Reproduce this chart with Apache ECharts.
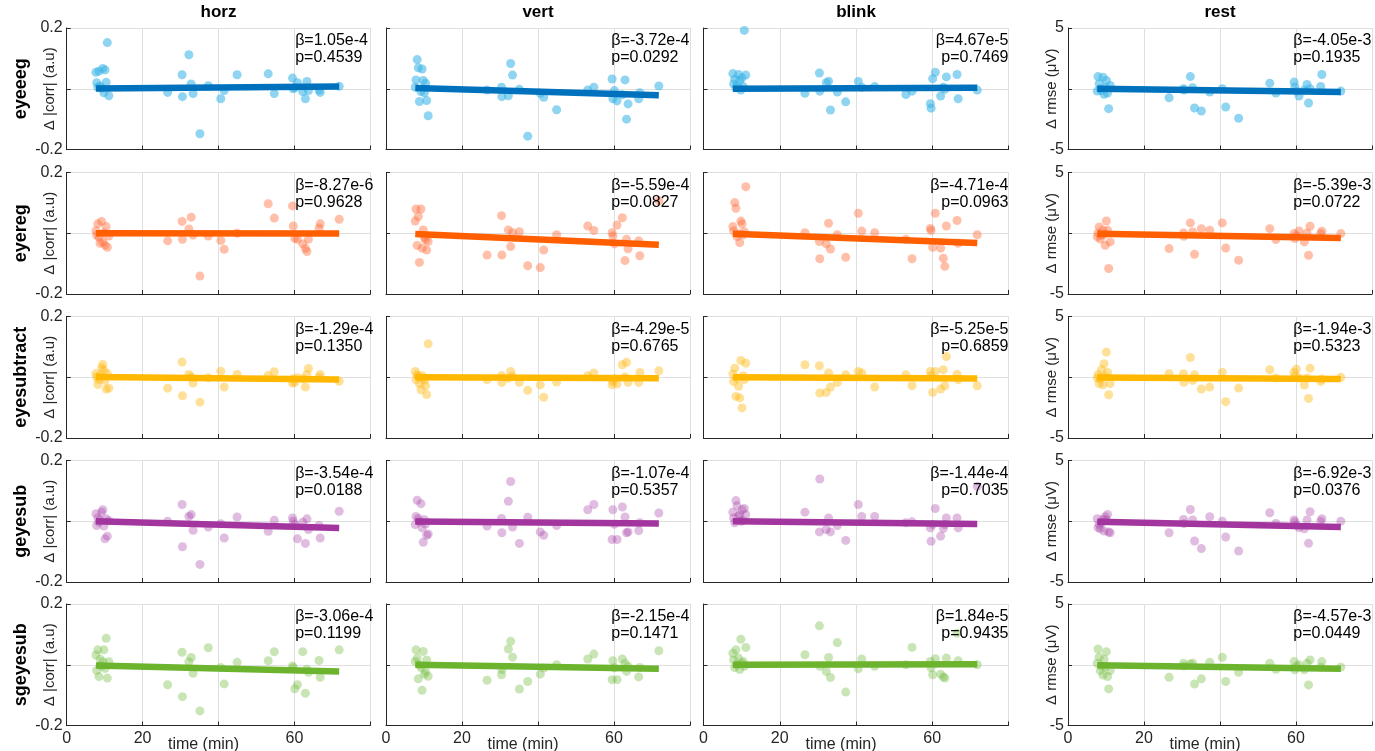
<!DOCTYPE html>
<html><head><meta charset="utf-8">
<script src="https://cdn.jsdelivr.net/npm/echarts@6/dist/echarts.min.js"></script>
<style>html,body{margin:0;padding:0;background:#fff}#c{width:1375px;height:751px}</style>
</head><body><div id="c"></div>
<script>
// ---------------- data ----------------
const methods = ['eyeeeg', 'eyereg', 'eyesubtract', 'geyesub', 'sgeyesub'];
const conditions = ['horz', 'vert', 'blink', 'rest'];
const corrAxisName = 'Δ |corr| (a.u)';
const rmseAxisName = 'Δ rmse (μV)';
const xAxisName = 'time (min)';
const xTickLabels = [0, 20, 60];
const corrRange = [-0.2, 0.2];
const rmseRange = [-5, 5];

const time = [7.7, 7.9, 8.2, 8.5, 8.8, 9.2, 9.5, 9.8, 10.1, 10.4, 10.7, 11.1,
  26.6, 30.4, 30.5, 32.2, 32.8, 33.3, 35.1, 37.3, 40.6, 41.5, 44.9, 53.1, 54.7,
  59.5, 59.7, 60.1, 60.8, 62.2, 62.9, 63.3, 63.7, 66.5, 66.8, 71.8];

const eyeeeg_horz = [0.054,0.020,0.005,0.058,0.009,0.002,0.067,-0.013,0.062,0.021,0.152,-0.023,
  -0.012,0.046,-0.026,0.112,0.016,-0.016,-0.148,0.010,-0.033,-0.006,0.046,0.049,-0.016,
  0.035,0.000,0.004,0.020,-0.009,-0.033,0.024,-0.006,-0.004,-0.012,0.008];
const eyeeeg_vert = [0.005,0.029,0.096,0.069,-0.042,-0.009,0.065,0.027,-0.013,0.018,-0.039,-0.089,
  -0.004,0.005,-0.026,-0.023,0.083,0.045,-0.002,-0.156,-0.015,-0.028,-0.069,-0.004,0.005,
  0.032,-0.033,-0.006,-0.040,-0.020,0.029,-0.100,-0.050,-0.033,-0.013,0.009];
const eyeeeg_blink = [0.050,0.016,0.031,0.003,0.011,0.047,0.027,-0.004,0.036,0.007,0.192,0.045,
  -0.015,0.052,-0.008,0.020,0.025,-0.070,-0.011,-0.043,0.024,0.005,0.007,-0.019,-0.008,
  -0.049,-0.064,0.033,0.054,-0.024,0.005,-0.002,0.039,0.047,-0.033,-0.004];
const eyeeeg_rest = [-0.19,1.0,0.41,0,-0.14,0.95,-0.46,0.08,0.68,-0.35,-1.64,0.27,
  -0.74,0,-0.1,1.0,0.08,-1.58,-1.83,-0.27,0,-1.5,-2.43,0.46,-0.35,
  0.55,0.14,-0.2,-0.6,-0.1,0.35,-1.17,0,0.19,1.17,-0.19];

const eyereg_horz = [0.008,-0.006,0.031,-0.013,-0.033,0.039,-0.028,0.002,-0.039,0.022,-0.046,-0.009,
  -0.025,0.039,-0.020,0.014,0.053,-0.006,-0.141,-0.009,-0.024,-0.053,0,0.097,0.050,
  0.090,0.024,-0.017,-0.020,-0.035,-0.050,-0.060,-0.020,0.017,0.031,0.046];
const eyereg_vert = [0.040,0.080,-0.040,0.055,-0.096,0.080,-0.049,0.011,-0.013,-0.022,-0.055,-0.027,
  -0.072,0.058,-0.072,0.011,-0.044,0.002,0.005,-0.107,-0.113,-0.055,-0.005,0.024,0.009,
  0.002,-0.009,-0.035,0.027,0.051,-0.090,-0.020,-0.051,-0.025,-0.074,0.107];
const eyereg_blink = [0.022,0.008,0.101,0.082,-0.011,-0.002,-0.031,0.040,0.031,-0.005,0.005,0.153,
  0.002,-0.027,-0.084,-0.035,0.033,-0.052,-0.005,-0.079,0.066,0.007,0.002,-0.020,-0.084,
  0.016,0.009,-0.046,0.066,-0.049,-0.082,-0.109,0.024,0.042,-0.033,-0.005];
const eyereg_rest = [-0.3,0.03,0.52,-0.47,-0.16,0.25,-0.08,-0.99,1.01,0.25,-2.9,-0.71,
  -1.26,0.03,-0.25,0.85,0.11,-1.73,0.38,0.25,0.85,-1.21,-2.22,0.38,-0.52,
  -0.03,-0.44,-0.2,0.19,-0.71,0.03,-1.81,0.58,-0.03,0.16,-0.03];

const eyesubtract_horz = [0.012,0.001,-0.024,-0.008,0.006,0.031,0.042,0.023,-0.010,-0.039,0.012,-0.036,
  -0.036,0.050,-0.061,0.009,0.001,-0.019,-0.082,-0.002,0.020,-0.032,0.009,0.006,0.018,
  -0.019,-0.005,-0.017,-0.002,-0.005,-0.032,0.009,0.029,0.000,0.009,-0.013];
const eyesubtract_vert = [0.019,-0.008,0.008,0.003,-0.021,-0.041,0.005,-0.003,-0.010,-0.028,-0.057,0.110,
  -0.008,0.005,-0.017,-0.003,0.019,0.003,-0.017,-0.043,-0.025,-0.066,-0.016,0.005,0.014,
  -0.025,-0.014,-0.005,-0.022,0.041,0.001,0.049,-0.017,-0.017,0.016,0.021];
const eyesubtract_blink = [0.011,-0.014,0.030,-0.063,-0.003,-0.030,-0.068,0.055,-0.101,0.005,-0.008,0.046,
  0.041,0.038,-0.052,-0.050,0.014,-0.032,-0.017,0.008,0.019,0.014,-0.032,0.008,-0.028,
  0.019,0.005,-0.050,0.019,-0.039,0.025,-0.028,0.068,0.010,-0.008,-0.028];
const eyesubtract_rest = [-0.07,0.21,-0.53,-0.15,0.62,-0.62,1.11,0.07,2.07,0.4,-1.44,-0.53,
  0.29,0.29,-0.42,1.63,-0.26,0.21,-0.97,-0.81,0.42,-2.01,-0.89,0.62,-0.07,
  0.42,0.1,0.67,-0.07,-0.64,-0.07,-1.74,0.75,-0.34,-0.15,-0.01];

const geyesub_horz = [0.025,-0.014,0.011,-0.003,0.003,0.030,0.038,-0.016,-0.058,0.008,-0.049,0.002,
  0,0.055,-0.084,0.016,0.022,-0.030,-0.142,-0.019,-0.008,-0.055,0.014,-0.033,0.003,
  0.011,0.000,-0.010,-0.058,-0.003,-0.073,0.008,-0.027,-0.014,-0.055,0.033];
const geyesub_vert = [-0.011,0.016,0.069,0.009,-0.002,0.058,-0.022,-0.069,0.005,-0.009,-0.046,-0.042,
  -0.016,0.009,-0.038,0.066,0.131,-0.019,-0.073,0.013,-0.035,-0.046,-0.014,0.038,0.055,
  -0.060,0.038,-0.010,-0.060,0.047,0.014,-0.038,-0.035,-0.031,-0.005,0.027];
const geyesub_blink = [0.030,0.011,-0.005,0.068,0.051,0.016,0.022,0,0.038,0.002,0.042,0.022,
  0.030,-0.035,0.139,-0.027,0.011,-0.035,-0.014,-0.063,0.055,0.016,0.016,-0.005,-0.002,
  -0.022,-0.066,-0.011,0.042,-0.049,-0.024,-0.011,0.011,0.011,-0.022,0.115];
const geyesub_rest = [0.21,-0.53,-0.26,-0.62,-0.12,0.15,-0.81,0.37,0.1,0.56,-0.89,-0.95,
  -0.95,0.15,-0.2,0.97,0.1,-1.63,-2.25,0.37,0.01,-1.3,-2.45,0.7,-0.18,
  0.1,-0.07,-0.3,-0.53,-0.62,0.1,-1.82,0.78,0.01,0.21,0.01];

const sgeyesub_horz = [0.032,-0.019,0.049,-0.039,0.018,-0.004,0.010,0.049,-0.012,0.087,-0.044,0.010,
  -0.066,0.041,-0.105,0.010,0.024,-0.028,-0.152,0.056,-0.009,-0.063,0.008,0.013,0.043,
  -0.004,-0.010,-0.079,-0.066,0.043,-0.094,-0.015,-0.025,0.014,-0.041,0.049];
const sgeyesub_vert = [0.011,0.049,0.022,-0.046,0,-0.009,-0.084,0.044,-0.031,-0.022,0.016,-0.038,
  -0.051,-0.033,-0.016,0.052,0.077,0.025,-0.080,-0.055,-0.031,-0.011,0,0.019,0.035,
  -0.049,0.013,-0.010,-0.049,0.019,0.005,-0.022,-0.005,-0.040,-0.009,0.046];
const sgeyesub_blink = [0.038,0.016,-0.009,0.049,0,0.022,-0.016,0.084,0.005,0.011,-0.005,0.057,
  0.033,0.128,-0.005,-0.022,0.024,-0.042,0.073,-0.090,-0.013,0.019,-0.005,0.000,0.057,
  0.011,-0.010,-0.033,0.020,-0.031,-0.040,-0.044,0.022,0.104,0.013,0.000];
const sgeyesub_rest = [0.12,1.3,0.62,-0.48,-0.1,-0.84,0.45,-0.2,1.08,-0.97,-1.99,-0.48,
  -1.03,0.12,-0.1,0.07,0.12,-1.58,-1.16,0.21,0.62,-1.38,-0.62,0.12,-0.37,
  0.26,-0.42,-0.1,-0.01,-0.42,0.12,-1.66,0.4,-0.2,0.26,-0.2];

// regression slope (per min), p-values and line intercepts (at t = 0), row = method, col = condition
const beta_eyeeeg = [1.05e-4, -3.72e-4, 4.67e-5, -4.05e-3];
const beta_eyereg = [-8.27e-6, -5.59e-4, -4.71e-4, -5.39e-3];
const beta_eyesubtract = [-1.29e-4, -4.29e-5, -5.25e-5, -1.94e-3];
const beta_geyesub = [-3.54e-4, -1.07e-4, -1.44e-4, -6.92e-3];
const beta_sgeyesub = [-3.06e-4, -2.15e-4, 1.84e-5, -4.57e-3];
const p_eyeeeg = [0.4539, 0.0292, 0.7469, 0.1935];
const p_eyereg = [0.9628, 0.0827, 0.0963, 0.0722];
const p_eyesubtract = [0.1350, 0.6765, 0.6859, 0.5323];
const p_geyesub = [0.0188, 0.5357, 0.7035, 0.0376];
const p_sgeyesub = [0.1199, 0.1471, 0.9435, 0.0449];
const icpt_eyeeeg = [0.0, 0.005, 0.0, 0.03];
const icpt_eyereg = [0.0, 0.002, 0.002, 0.0];
const icpt_eyesubtract = [0.002, 0.0, 0.0, 0.0];
const icpt_geyesub = [0.003, 0.0, 0.001, 0.02];
const icpt_sgeyesub = [0.0, 0.002, 0.0, 0.0];

// ---------------- assembly ----------------
const panelValues = [
  [eyeeeg_horz, eyeeeg_vert, eyeeeg_blink, eyeeeg_rest],
  [eyereg_horz, eyereg_vert, eyereg_blink, eyereg_rest],
  [eyesubtract_horz, eyesubtract_vert, eyesubtract_blink, eyesubtract_rest],
  [geyesub_horz, geyesub_vert, geyesub_blink, geyesub_rest],
  [sgeyesub_horz, sgeyesub_vert, sgeyesub_blink, sgeyesub_rest]
];
const betas = [beta_eyeeeg, beta_eyereg, beta_eyesubtract, beta_geyesub, beta_sgeyesub];
const pvals = [p_eyeeeg, p_eyereg, p_eyesubtract, p_geyesub, p_sgeyesub];
const icpts = [icpt_eyeeeg, icpt_eyereg, icpt_eyesubtract, icpt_geyesub, icpt_sgeyesub];

const lineColors = ['#0072BD', '#FF5F00', '#FFB700', '#A2359E', '#6CB32E'];
const dotColors = ['rgba(60,180,230,0.72)', 'rgba(255,110,60,0.55)', 'rgba(255,185,20,0.55)',
  'rgba(170,70,170,0.45)', 'rgba(120,190,70,0.5)'];

const FONT = "'Liberation Sans', Arial, Helvetica, sans-serif";
const colLeft = [66.7, 386, 703.5, 1068];
const colWidth = [303.6, 304, 305, 304];
const rowTop = [28, 172.5, 316.5, 460.5, 604];
const rowHeight = 121.5;
const annotFrac = [60.2 / 80, 59.3 / 80, 1, 59.3 / 80];

const grids = [], xAxes = [], yAxes = [], series = [], graphics = [];
const tMin = Math.min(...time), tMax = Math.max(...time);

methods.forEach((m, r) => {
  conditions.forEach((cnd, c) => {
    const idx = grids.length;
    grids.push({left: colLeft[c], top: rowTop[r], width: colWidth[c], height: rowHeight, containLabel: false});
    xAxes.push({
      gridIndex: idx, type: 'value', min: 0, max: 80, interval: 20,
      axisLine: {show: true, onZero: false, lineStyle: {color: '#262626', width: 1}},
      axisTick: {show: true, inside: true, length: 4, lineStyle: {color: '#262626'}},
      axisLabel: {show: r === methods.length - 1, margin: 5, fontSize: 16, color: '#262626', fontFamily: FONT,
        formatter: v => xTickLabels.indexOf(Math.round(v)) >= 0 ? String(Math.round(v)) : ''},
      splitLine: {show: true, lineStyle: {color: '#DFDFDF', width: 1}}
    });
    const rng = c === 3 ? rmseRange : corrRange;
    yAxes.push({
      gridIndex: idx, type: 'value', min: rng[0], max: rng[1], interval: rng[1],
      axisLine: {show: true, onZero: false, lineStyle: {color: '#262626', width: 1}},
      axisTick: {show: true, inside: true, length: 4, lineStyle: {color: '#262626'}},
      axisLabel: {show: c === 0 || c === 3, margin: 4, fontSize: 16, color: '#262626', fontFamily: FONT,
        formatter: v => Math.abs(v) < 1e-9 ? '' : String(+v.toFixed(3))},
      splitLine: {show: true, lineStyle: {color: '#DFDFDF', width: 1}}
    });
    const vals = panelValues[r][c];
    series.push({
      type: 'scatter', xAxisIndex: idx, yAxisIndex: idx, symbolSize: 9, z: 2,
      itemStyle: {color: dotColors[r]},
      data: time.map((t, k) => [t, vals[k]])
    });
    const b = betas[r][c], a = icpts[r][c];
    series.push({
      type: 'line', xAxisIndex: idx, yAxisIndex: idx, symbol: 'none', z: 3, silent: true,
      lineStyle: {color: lineColors[r], width: 6.5}, clip: false,
      data: [[tMin, a + b * tMin], [tMax, a + b * tMax]]
    });
    // annotation text
    const rightAlign = c === 2;
    const tx = colLeft[c] + colWidth[c] * annotFrac[c];
    const lines = ['β=' + b.toExponential(2), 'p=' + pvals[r][c].toFixed(4)];
    lines.forEach((s, li) => {
      graphics.push({type: 'text', x: tx, y: rowTop[r] + 13 + li * 17, z: 10,
        style: {text: s, font: '16px ' + FONT, fill: '#000', align: rightAlign ? 'right' : 'left', verticalAlign: 'middle'}});
    });
  });
  // row label
  graphics.push({type: 'text', x: 21, y: rowTop[r] + rowHeight / 2, rotation: Math.PI / 2,
    style: {text: m, font: 'bold 18px ' + FONT, fill: '#000', align: 'center', verticalAlign: 'middle'}});
  graphics.push({type: 'text', x: 50, y: rowTop[r] + rowHeight / 2, rotation: Math.PI / 2,
    style: {text: corrAxisName, font: '15px ' + FONT, fill: '#262626', align: 'center', verticalAlign: 'middle'}});
  graphics.push({type: 'text', x: 1052, y: rowTop[r] + rowHeight / 2, rotation: Math.PI / 2,
    style: {text: rmseAxisName, font: '15px ' + FONT, fill: '#262626', align: 'center', verticalAlign: 'middle'}});
});
conditions.forEach((cnd, c) => {
  graphics.push({type: 'text', x: colLeft[c] + colWidth[c] / 2, y: 12,
    style: {text: cnd, font: 'bold 17px ' + FONT, fill: '#000', align: 'center', verticalAlign: 'middle'}});
  graphics.push({type: 'text', x: colLeft[c] + colWidth[c] / 2 - 15, y: 745,
    style: {text: xAxisName, font: '16px ' + FONT, fill: '#262626', align: 'center', verticalAlign: 'middle'}});
});

const chart = echarts.init(document.getElementById('c'), null, {renderer: 'canvas'});
chart.setOption({
  animation: false,
  backgroundColor: '#fff',
  grid: grids, xAxis: xAxes, yAxis: yAxes, series: series,
  graphic: graphics
});
</script>
</body></html>
